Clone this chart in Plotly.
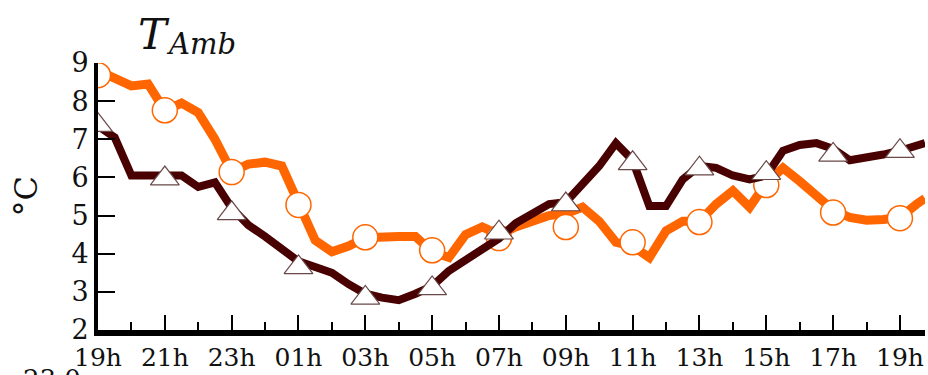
import plotly.graph_objects as go

# Hours elapsed since 19h, sampled every half hour (last sample at 20h45)
hours = [0, 0.5, 1, 1.5, 2, 2.5, 3, 3.5, 4, 4.5, 5, 5.5, 6, 6.5, 7, 7.5, 8, 8.5,
         9, 9.5, 10, 10.5, 11, 11.5, 12, 12.5, 13, 13.5, 14, 14.5, 15, 15.5, 16,
         16.5, 17, 17.5, 18, 18.5, 19, 19.5, 20, 20.5, 21, 21.5, 22, 22.5, 23,
         23.5, 24, 24.5, 24.75]

# Ambient temperature, site A (orange) and site B (dark), in degrees C
t_orange = [8.8, 8.6, 8.4, 8.45, 7.75, 7.95, 7.7, 7.0, 6.15, 6.35, 6.4, 6.3, 5.3,
            4.35, 4.05, 4.2, 4.42, 4.45, 4.45, 4.45, 4.05, 3.9, 4.5, 4.7, 4.5,
            4.7, 4.85, 5.0, 5.05, 5.22, 4.85, 4.3, 4.2, 3.9, 4.6, 4.85, 4.85,
            5.3, 5.65, 5.22, 5.85, 6.25, 5.9, 5.5, 5.15, 4.95, 4.88, 4.9, 4.95,
            5.3, 5.45]
t_dark = [7.35, 7.05, 6.05, 6.05, 6.05, 6.05, 5.75, 5.87, 5.2, 4.75, 4.45, 4.1,
          3.8, 3.65, 3.5, 3.2, 2.95, 2.85, 2.78, 2.95, 3.15, 3.55, 3.85, 4.1,
          4.4, 4.8, 5.05, 5.3, 5.35, 5.85, 6.3, 6.9, 6.45, 5.25, 5.25, 5.95,
          6.3, 6.25, 6.05, 5.95, 6.05, 6.7, 6.85, 6.9, 6.75, 6.45, 6.5, 6.6,
          6.7, 6.85, 6.9]

# Two-hourly values shown with markers
mark_hours = [0, 2, 4, 6, 8, 10, 12, 14, 16, 18, 20, 22, 24]
mark_orange = [8.68, 7.76, 6.14, 5.28, 4.43, 4.09, 4.41, 4.70, 4.30, 4.83, 5.80,
               5.08, 4.93]
mark_dark = [7.37, 5.97, 5.06, 3.64, 2.84, 3.09, 4.55, 5.29, 6.37, 6.23, 6.11,
             6.59, 6.69]

# Axis tick labels
tick_vals = [0, 2, 4, 6, 8, 10, 12, 14, 16, 18, 20, 22, 24]
tick_text = ["19h", "21h", "23h", "01h", "03h", "05h", "07h", "09h", "11h",
             "13h", "15h", "17h", "19h"]

ORANGE = "#ff6600"
DARK = "#480000"
SERIF = "DejaVu Serif"
TXT = "#111111"

fig = go.Figure()
fig.add_trace(go.Scatter(x=hours, y=t_orange, mode="lines",
                         line=dict(color=ORANGE, width=9), showlegend=False))
fig.add_trace(go.Scatter(x=mark_hours, y=mark_orange, mode="markers",
                         marker=dict(symbol="circle", size=25, color="white",
                                     line=dict(color=ORANGE, width=1.5)),
                         showlegend=False))
fig.add_trace(go.Scatter(x=hours, y=t_dark, mode="lines",
                         line=dict(color=DARK, width=8), showlegend=False))
fig.add_trace(go.Scatter(x=mark_hours, y=mark_dark, mode="markers",
                         marker=dict(symbol="triangle-up", size=25, color="white",
                                     line=dict(color="#6a4848", width=1.2)),
                         showlegend=False))

fig.update_layout(
    width=928, height=375,
    margin=dict(l=98, r=3, t=63, b=45),
    paper_bgcolor="white", plot_bgcolor="white",
    font=dict(family=SERIF, size=24, color=TXT),
    xaxis=dict(range=[0, 24.75], tickvals=tick_vals, ticktext=tick_text,
               ticks="inside", ticklen=15, tickwidth=2, tickcolor="black",
               showline=True, linewidth=6, linecolor="black",
               showgrid=False, zeroline=False,
               tickfont=dict(family=SERIF, size=25, color=TXT),
               minor=dict(ticks="inside", ticklen=8, tickwidth=2,
                          tickcolor="black", dtick=1, showgrid=False)),
    yaxis=dict(range=[2, 9], dtick=1, ticks="inside", ticklen=17, tickwidth=2,
               tickcolor="black", showline=True, linewidth=4, linecolor="black",
               showgrid=False, zeroline=False,
               tickfont=dict(family=SERIF, size=27, color=TXT)),
    annotations=[
        dict(text="<i>T</i>", xref="paper", yref="paper",
             x=(136 - 98) / 827, y=(330 - 7) / 267, xanchor="left",
             yanchor="top", showarrow=False,
             font=dict(family=SERIF, size=43, color=TXT)),
        dict(text="<i>Amb</i>", xref="paper", yref="paper",
             x=(164 - 98) / 827, y=(330 - 25) / 267, xanchor="left",
             yanchor="top", showarrow=False,
             font=dict(family=SERIF, size=29, color=TXT)),
        dict(text="°C", xref="paper", yref="paper",
             x=(25 - 98) / 827, y=0.5, xanchor="center", yanchor="middle",
             textangle=-90, showarrow=False,
             font=dict(family=SERIF, size=32, color=TXT)),
        dict(text="23.0", xref="paper", yref="paper",
             x=(52 - 98) / 827, y=(330 - 362) / 267, xanchor="center",
             yanchor="top", showarrow=False,
             font=dict(family=SERIF, size=26, color=TXT)),
    ],
)

fig.write_html("out.html")
